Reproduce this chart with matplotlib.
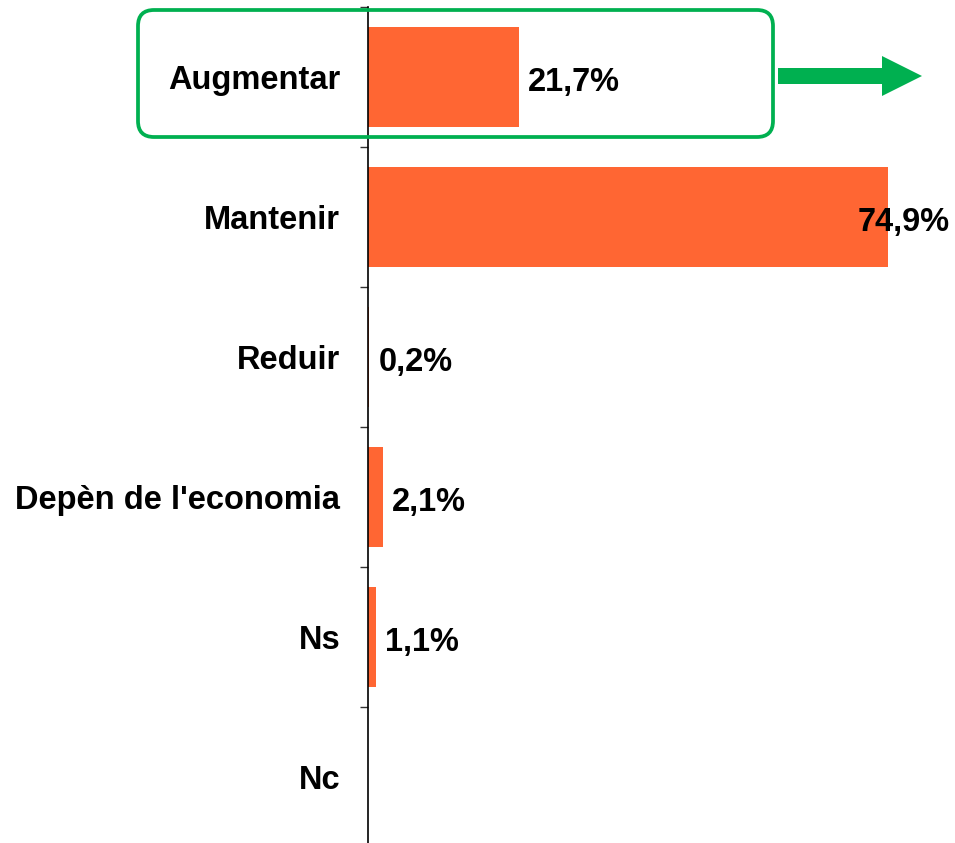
import matplotlib
matplotlib.use("Agg")
import matplotlib.pyplot as plt
from matplotlib.patches import FancyBboxPatch, Polygon
from matplotlib.transforms import Affine2D
import numpy as np

plt.rcParams["font.family"] = ["Liberation Sans", "DejaVu Sans"]

categories = ["Augmentar", "Mantenir", "Reduir", "Depèn de l'economia", "Ns", "Nc"]
values = [21.7, 74.9, 0.2, 2.1, 1.1, 0.0]
value_labels = ["21,7%", "74,9%", "0,2%", "2,1%", "1,1%", ""]

W, H = 955, 843
fig = plt.figure(figsize=(W / 100, H / 100), dpi=100)
ax = fig.add_axes([368 / W, -4 / H, 555 / W, 840 / H])

y = np.arange(len(categories))
ax.barh(y, values, height=0.71, color="#FF6633")
ax.set_xlim(0, 80)
ax.set_ylim(len(categories) - 0.5, -0.5)

for yi, v, lab in zip(y, values, value_labels):
    if not lab:
        continue
    if v > 70:
        ax.annotate(lab, (v, yi), xytext=(62, -6), textcoords="offset pixels",
                    ha="right", va="center", fontsize=23.5, fontweight="bold")
    else:
        ax.annotate(lab, (v, yi), xytext=(9, -6), textcoords="offset pixels",
                    ha="left", va="center", fontsize=23.5, fontweight="bold")

ax.set_yticks(y)
ax.set_yticklabels(categories, fontsize=23.5, fontweight="bold")
ax.set_yticks(np.arange(-0.5, len(categories) + 0.5, 1), minor=True)
ax.tick_params(axis="y", which="major", length=0, pad=20)
ax.tick_params(axis="y", which="minor", length=6, color="#333333", width=1)
ax.set_xticks([])
for s in ["top", "right", "bottom"]:
    ax.spines[s].set_visible(False)
ax.spines["left"].set_linewidth(1.2)

# pixel coords (y down) -> figure
px = Affine2D().scale(1 / W, -1 / H).translate(0, 1) + fig.transFigure

green = "#00B050"
box = FancyBboxPatch((138, 10), 635, 127, boxstyle="round,pad=0,rounding_size=16",
                     fill=False, edgecolor=green, linewidth=2.7, transform=px)
fig.patches.append(box)

arrow = Polygon([(778, 68), (882, 68), (882, 56), (922, 76), (882, 96), (882, 84), (778, 84)],
                closed=True, facecolor=green, edgecolor="none", transform=px)
fig.patches.append(arrow)

fig.savefig("out.png", dpi=100)
